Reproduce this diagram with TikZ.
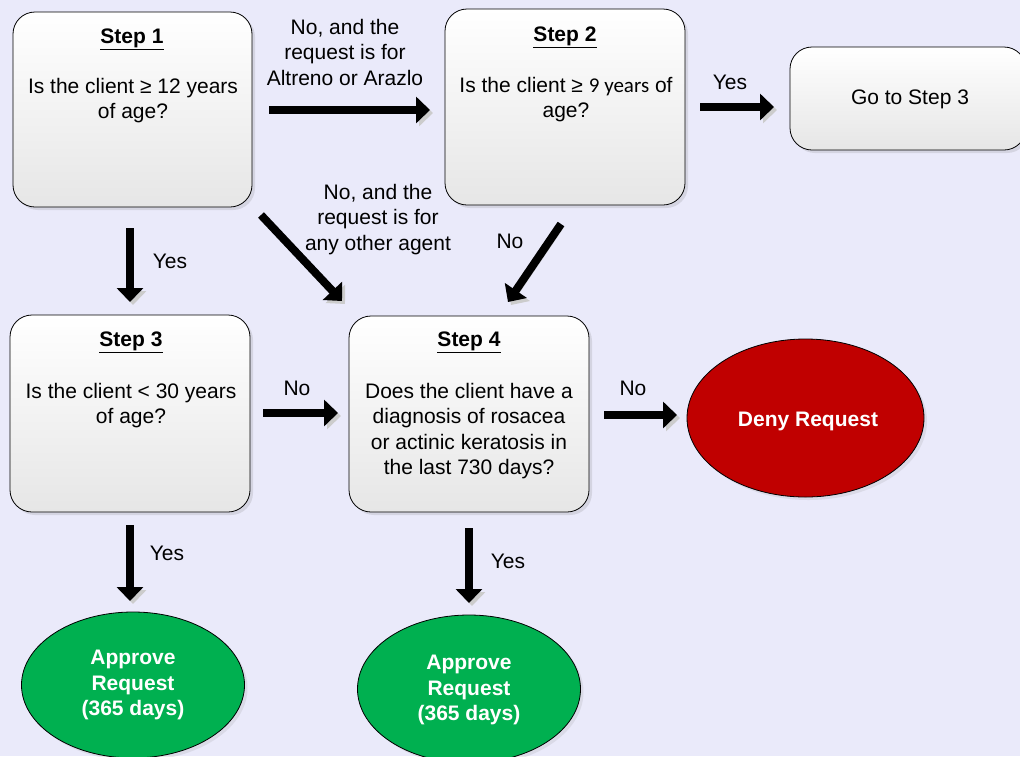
\documentclass[tikz,border=0pt]{standalone}
\usepackage{fontspec}
\setmainfont{Liberation Sans}
\newfontfamily\carlito{Carlito}
\usepackage{tikz}
\usetikzlibrary{shapes}
\usetikzlibrary{shapes.geometric}
\usetikzlibrary{arrows.meta}
\usetikzlibrary{shadows}
\pgfdeclarelayer{bglayer}
\pgfdeclarelayer{edgelayer}
\pgfdeclarelayer{nodelayer}
\pgfsetlayers{bglayer,edgelayer,nodelayer,main}
\definecolor{bgblue}{RGB}{234,234,250}
\definecolor{boxgray}{RGB}{230,230,230}
\definecolor{deny}{RGB}{192,0,0}
\definecolor{approve}{RGB}{0,176,80}
\tikzstyle{none}=[inner sep=0pt]
\tikzstyle{txt}=[inner sep=0pt, anchor=north, align=center, font=\fontsize{21}{25.5}\selectfont]
\tikzstyle{whitetxt}=[txt, text=white, font=\fontsize{21}{25.5}\selectfont\bfseries]
\tikzstyle{stepbox}=[draw, line width=0.8, rounded corners=22, top color=white, bottom color=boxgray, drop shadow={shadow xshift=3pt, shadow yshift=-3pt, opacity=0.2}]
\tikzstyle{endnode}=[ellipse, draw, line width=0.8, drop shadow={shadow xshift=3pt, shadow yshift=-3pt, opacity=0.15}]
\tikzstyle{bigarrow}=[line width=8, -{Triangle[length=14pt, width=26pt]}, preaction={draw=black!20, transform canvas={xshift=3pt, yshift=-3pt}}]

\begin{document}
\begin{tikzpicture}[x=1pt, y=-1pt]
	\useasboundingbox (0, 0) rectangle (1020, 756);
	\begin{pgfonlayer}{bglayer}
		\fill [bgblue] (0, 0) rectangle (1020, 756);
	\end{pgfonlayer}
	\begin{pgfonlayer}{nodelayer}
		% boxes and end points
		\node [style=stepbox, minimum width=239, minimum height=195] (0) at (132.5, 109.5) {};
		\node [style=stepbox, minimum width=240, minimum height=196] (1) at (565, 107) {};
		\node [style=stepbox, minimum width=236, minimum height=103] (2) at (908, 98.5) {};
		\node [style=stepbox, minimum width=240, minimum height=197] (3) at (130, 413.5) {};
		\node [style=stepbox, minimum width=240, minimum height=196] (4) at (469, 414) {};
		\node [style=endnode, fill=deny, minimum width=237, minimum height=158] (5) at (805.5, 418) {};
		\node [style=endnode, fill=approve, minimum width=223, minimum height=146] (6) at (133, 685) {};
		\node [style=endnode, fill=approve, minimum width=223, minimum height=148] (7) at (469, 689) {};
		% texts
		\node [style=txt] (20) at (132, 29) {\underline{\textbf{Step 1}}};
		\node [style=txt] (21) at (133, 78) {Is the client ≥ 12 years\\of age?};
		\node [style=txt] (22) at (565, 27) {\underline{\textbf{Step 2}}};
		\node [style=txt] (23) at (566, 77) {Is the client ≥ {\carlito 9 years} of\\age?};
		\node [style=txt] (24) at (910, 90) {Go to Step 3};
		\node [style=txt] (25) at (131, 332) {\underline{\textbf{Step 3}}};
		\node [style=txt] (26) at (131, 383) {Is the client < 30 years\\of age?};
		\node [style=txt] (27) at (469, 332) {\underline{\textbf{Step 4}}};
		\node [style=txt] (28) at (469, 383) {Does the client have a\\diagnosis of rosacea\\or actinic keratosis in\\the last 730 days?};
		\node [style=whitetxt] (29) at (808, 412) {Deny Request};
		\node [style=whitetxt] (30) at (133, 650) {Approve\\Request\\(365 days)};
		\node [style=whitetxt] (31) at (469, 655) {Approve\\Request\\(365 days)};
		% arrow labels
		\node [style=txt] (32) at (345, 19) {No, and the\\request is for\\Altreno or Arazlo};
		\node [style=txt] (33) at (730, 75) {Yes};
		\node [style=txt] (34) at (170, 254) {Yes};
		\node [style=txt] (35) at (378, 184) {No, and the\\request is for\\any other agent};
		\node [style=txt] (36) at (510, 234) {No};
		\node [style=txt] (37) at (297, 381) {No};
		\node [style=txt] (38) at (633, 381) {No};
		\node [style=txt] (39) at (167, 546) {Yes};
		\node [style=txt] (40) at (508, 554) {Yes};
		% arrow ends
		\node [style=none] (50) at (269, 110) {};
		\node [style=none] (51) at (430, 110) {};
		\node [style=none] (52) at (700, 107) {};
		\node [style=none] (53) at (774, 107) {};
		\node [style=none] (54) at (130, 228) {};
		\node [style=none] (55) at (130, 302) {};
		\node [style=none] (56) at (261, 215) {};
		\node [style=none] (57) at (342, 301) {};
		\node [style=none] (58) at (561, 224) {};
		\node [style=none] (59) at (508, 302) {};
		\node [style=none] (60) at (263, 413) {};
		\node [style=none] (61) at (338, 413) {};
		\node [style=none] (62) at (604, 415) {};
		\node [style=none] (63) at (677, 415) {};
		\node [style=none] (64) at (130, 525) {};
		\node [style=none] (65) at (130, 601) {};
		\node [style=none] (66) at (469, 528) {};
		\node [style=none] (67) at (469, 603) {};
	\end{pgfonlayer}
	\begin{pgfonlayer}{edgelayer}
		\draw [style=bigarrow] (50.center) to (51.center);
		\draw [style=bigarrow] (52.center) to (53.center);
		\draw [style=bigarrow] (54.center) to (55.center);
		\draw [style=bigarrow] (56.center) to (57.center);
		\draw [style=bigarrow] (58.center) to (59.center);
		\draw [style=bigarrow] (60.center) to (61.center);
		\draw [style=bigarrow] (62.center) to (63.center);
		\draw [style=bigarrow] (64.center) to (65.center);
		\draw [style=bigarrow] (66.center) to (67.center);
	\end{pgfonlayer}
\end{tikzpicture}
\end{document}
